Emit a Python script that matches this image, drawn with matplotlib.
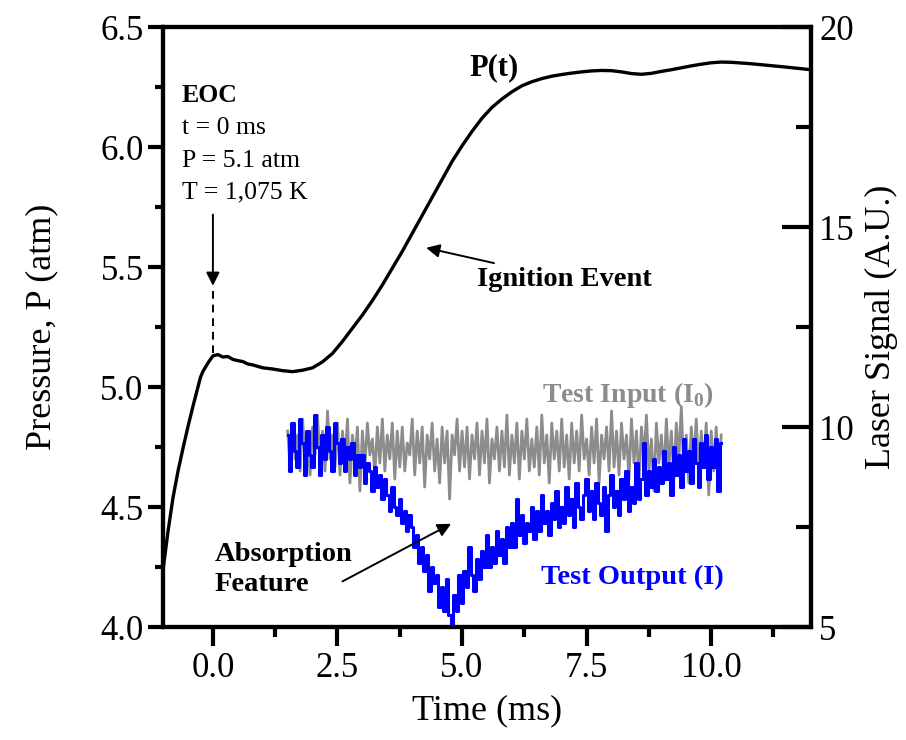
import numpy as np
import matplotlib
matplotlib.use('Agg')
import matplotlib.pyplot as plt
from matplotlib.ticker import MultipleLocator

plt.rcParams['font.family'] = ['Liberation Serif', 'DejaVu Serif']
plt.rcParams['mathtext.fontset'] = 'custom'
plt.rcParams['mathtext.rm'] = 'Liberation Serif'
plt.rcParams['mathtext.bf'] = 'Liberation Serif:bold'

# pressure trace, P(t)
p_time = [-1.0, -0.9, -0.8, -0.7, -0.6, -0.5, -0.4, -0.3, -0.25, -0.2,
          -0.1, 0.0, 0.1, 0.2, 0.3, 0.4, 0.5, 0.6, 0.7, 0.8,
          0.9, 1.0, 1.2, 1.4, 1.6, 1.8, 2.0, 2.2, 2.4, 2.6,
          2.8, 3.0, 3.2, 3.4, 3.6, 3.8, 4.0, 4.2, 4.4, 4.6,
          4.8, 5.0, 5.2, 5.4, 5.6, 5.8, 6.0, 6.2, 6.4, 6.6,
          6.8, 7.0, 7.2, 7.4, 7.6, 7.8, 8.0, 8.2, 8.4, 8.6,
          8.8, 9.0, 9.2, 9.4, 9.6, 9.8, 10.0, 10.2, 10.4, 10.6,
          10.8, 11.0, 11.5, 12.0]
p_atm = [4.24, 4.40, 4.54, 4.65, 4.745, 4.835, 4.92, 5.00, 5.04, 5.065,
         5.10, 5.13, 5.135, 5.125, 5.127, 5.115, 5.11, 5.106, 5.096, 5.092,
         5.086, 5.08, 5.075, 5.068, 5.064, 5.07, 5.08, 5.105, 5.14, 5.19,
         5.245, 5.30, 5.36, 5.425, 5.495, 5.565, 5.64, 5.715, 5.79, 5.865,
         5.94, 6.005, 6.065, 6.12, 6.165, 6.20, 6.23, 6.255, 6.272, 6.285,
         6.295, 6.302, 6.308, 6.313, 6.317, 6.319, 6.318, 6.313, 6.306, 6.303,
         6.307, 6.315, 6.322, 6.33, 6.338, 6.345, 6.351, 6.354, 6.353, 6.35,
         6.347, 6.343, 6.333, 6.322]

# laser signals, sampled every 0.05 ms from 1.5 ms
laser_t0 = 1.5
laser_dt = 0.05
test_input = [
    9.9, 9.0, 10.1, 9.2, 9.8, 8.9, 10.2, 9.1, 9.7, 8.8,
    10.0, 9.3, 10.3, 9.0, 9.9, 8.9, 10.4, 9.2, 9.8, 9.0,
    10.1, 8.8, 9.9, 9.1, 10.2, 8.6, 9.8, 9.2, 10.0, 8.4,
    9.9, 9.0, 10.1, 9.3, 9.7, 8.8, 10.0, 9.1, 10.2, 8.9,
    9.8, 9.2, 10.1, 8.7, 9.9, 9.0, 10.0, 8.9, 9.6, 9.3,
    10.2, 8.8, 9.9, 9.1, 10.0, 8.5, 9.8, 9.2, 10.1, 8.9,
    9.7, 8.6, 10.0, 9.1, 9.9, 8.2, 9.8, 9.3, 10.2, 8.9,
    9.9, 9.0, 10.0, 8.7, 9.8, 9.2, 10.1, 8.8, 9.9, 9.1,
    10.2, 8.6, 9.7, 9.2, 10.0, 8.9, 9.9, 9.0, 10.3, 8.8,
    9.8, 9.1, 10.1, 8.7, 9.9, 9.2, 10.2, 8.9, 9.7, 9.0,
    10.0, 8.8, 10.3, 9.1, 9.8, 8.6, 10.1, 9.2, 9.9, 8.9,
    10.2, 9.0, 9.8, 8.7, 10.1, 9.1, 9.9, 8.9, 10.3, 9.2,
    9.7, 8.8, 10.0, 9.1, 10.2, 8.6, 9.8, 9.2, 10.0, 8.9,
    10.4, 9.0, 9.9, 8.8, 10.1, 9.2, 9.8, 8.7, 10.2, 9.1,
    9.9, 8.6, 10.0, 9.2, 10.3, 8.9, 9.7, 8.4, 10.1, 9.1,
    9.8, 8.8, 10.2, 9.0, 9.9, 8.7, 10.1, 9.2, 10.5, 8.9,
    9.8, 8.6, 10.0, 9.1, 10.2, 8.8, 9.9, 9.0, 10.1, 8.3,
    9.9, 8.9, 10.0, 8.5, 9.8]
test_output = [
    9.8, 8.9, 10.1, 9.4, 9.0, 10.2, 9.6, 8.8, 9.9, 9.3,
    9.0, 10.3, 9.5, 8.8, 9.8, 9.2, 10.0, 9.4, 8.9, 10.1,
    9.6, 9.1, 9.7, 8.9, 9.5, 9.2, 9.6, 8.8, 9.3, 9.0,
    9.3, 8.6, 9.1, 8.9, 8.4, 9.0, 8.5, 8.8, 8.2, 8.7,
    8.3, 7.9, 8.5, 8.0, 7.8, 8.2, 7.6, 7.9, 7.4, 7.8,
    7.5, 7.0, 7.3, 6.6, 7.0, 6.4, 6.8, 5.9, 6.5, 6.1,
    6.3, 5.5, 6.0, 5.4, 6.2, 5.3, 5.0, 5.8, 5.4, 6.3,
    5.6, 6.4, 6.0, 7.0, 6.3, 5.9, 6.7, 6.2, 6.9, 6.5,
    7.3, 6.5, 7.0, 6.6, 7.4, 6.8, 7.2, 6.6, 7.5, 7.0,
    7.6, 7.0, 8.2, 7.3, 7.8, 7.1, 7.6, 7.4, 8.0, 7.2,
    7.9, 7.4, 8.3, 7.6, 7.9, 7.3, 8.1, 7.7, 8.4, 7.5,
    8.0, 7.6, 8.5, 7.8, 8.2, 7.5, 8.6, 8.0, 7.7, 8.3,
    8.7, 7.9, 8.4, 7.7, 8.6, 8.1, 7.8, 8.5, 7.4, 8.3,
    8.8, 8.0, 8.4, 7.8, 8.7, 8.2, 8.9, 7.9, 8.5, 8.1,
    9.1, 8.2, 8.7, 9.6, 8.3, 8.9, 8.5, 9.2, 8.4, 9.0,
    8.6, 9.4, 8.7, 9.1, 8.3, 9.5, 8.8, 9.3, 8.5, 9.7,
    8.9, 9.4, 8.6, 9.7, 9.1, 8.5, 9.6, 9.0, 9.8, 8.7,
    9.5, 9.0, 9.7, 8.4, 9.6]

laser_time = laser_t0 + laser_dt * np.arange(len(test_input))

fig = plt.figure(figsize=(9.06, 7.40), dpi=100)
ax = fig.add_axes([0.18, 0.1527, 0.715, 0.8108])
ax2 = ax.twinx()

ax2.plot(laser_time, test_input, color='#8c8c8c', lw=2.0, zorder=2)
ax2.plot(laser_time, test_output, color='#0000ff', lw=2.2,
         drawstyle='steps-mid', zorder=3)
ax.plot(p_time, p_atm, color='k', lw=2.4, zorder=4)
ax.set_zorder(ax2.get_zorder() + 1)
ax.patch.set_visible(False)

ax.set_xlim(-1, 12)
ax.set_ylim(4.0, 6.5)
ax2.set_ylim(5, 20)

ax.xaxis.set_major_locator(MultipleLocator(2.5))
ax.xaxis.set_minor_locator(MultipleLocator(1.25))
ax.yaxis.set_major_locator(MultipleLocator(0.5))
ax.yaxis.set_minor_locator(MultipleLocator(0.25))
ax2.yaxis.set_major_locator(MultipleLocator(5))
ax2.yaxis.set_minor_locator(MultipleLocator(2.5))
ax.xaxis.set_major_formatter(plt.FormatStrFormatter('%.1f'))
ax.yaxis.set_major_formatter(plt.FormatStrFormatter('%.1f'))

for a in (ax, ax2):
    for s in a.spines.values():
        s.set_linewidth(3)
ax.tick_params(axis='both', which='major', direction='out', length=11,
               width=3, labelsize=25, pad=3)
ax.tick_params(axis='both', which='minor', direction='out', length=6, width=3)
ax.tick_params(axis='x', which='major', length=14, pad=4)
ax.tick_params(axis='x', which='minor', length=7)
ax.tick_params(axis='y', right=False)
ax2.tick_params(axis='y', which='major', direction='in', length=21, width=3,
                labelsize=25, pad=6)
ax2.tick_params(axis='y', which='minor', direction='in', length=11, width=3)

ax.set_xlabel('Time (ms)', fontsize=26, labelpad=7)
ax.set_ylabel('Pressure, P (atm)', fontsize=26, labelpad=30)
ax2.set_ylabel('Laser Signal (A.U.)', fontsize=26, labelpad=8)

# annotations
ax.text(-0.63, 6.215, 'EOC', fontsize=18.5, fontweight='bold', va='center')
ax.text(-0.63, 6.08, 't = 0 ms', fontsize=18.5, va='center')
ax.text(-0.63, 5.94, 'P = 5.1 atm', fontsize=18.5, va='center')
ax.text(-0.63, 5.81, 'T = 1,075 K', fontsize=18.5, va='center')
ax.annotate('', xy=(0.0, 5.41), xytext=(0.0, 5.73),
            arrowprops=dict(arrowstyle='-|>', color='k', lw=1.4,
                            mutation_scale=20))
ax.plot([0.0, 0.0], [5.40, 5.14], color='k', lw=1.4, ls=(0, (4, 3)))

ax.text(5.15, 6.33, 'P(t)', fontsize=22, fontweight='bold', va='center')
ax.annotate('Ignition Event', xy=(4.28, 5.58), xytext=(5.3, 5.45),
            fontsize=20.5, fontweight='bold', va='center', ha='left',
            arrowprops=dict(arrowstyle='-|>', color='k', lw=1.4,
                            mutation_scale=20, shrinkA=2, shrinkB=0))
ax.text(0.04, 4.24, 'Absorption\nFeature', fontsize=20.5, fontweight='bold',
        va='center', linespacing=1.25)
ax.annotate('', xy=(4.78, 4.43), xytext=(2.6, 4.19),
            arrowprops=dict(arrowstyle='-|>', color='k', lw=1.4,
                            mutation_scale=20, shrinkA=0, shrinkB=0))

ax2.text(6.6, 10.8, 'Test Input (I$_\\mathbf{0}$)', fontsize=20,
         fontweight='bold', color='#8c8c8c', va='center')
ax2.text(6.58, 6.25, 'Test Output (I)', fontsize=20.5, fontweight='bold',
         color='#0000ff', va='center')

fig.savefig('out.png', dpi=100)
